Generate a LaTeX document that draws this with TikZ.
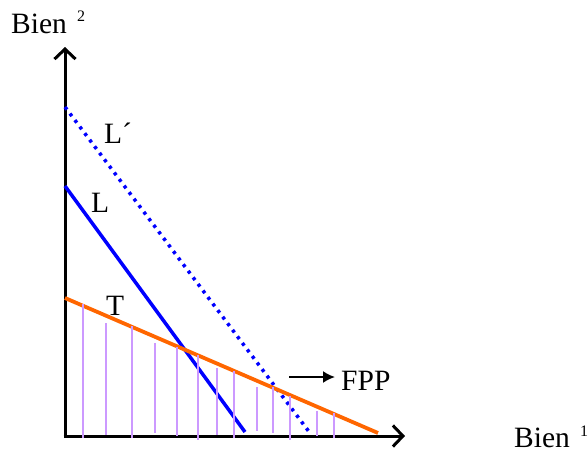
\documentclass[tikz,border=0pt]{standalone}
\usepackage{fontspec}
\setmainfont{Liberation Serif}
\usetikzlibrary{arrows.meta}
\definecolor{lineorange}{RGB}{255,102,0}
\definecolor{hatchviolet}{RGB}{204,153,255}
\definecolor{lineblue}{RGB}{0,0,255}
\tikzset{
  axis/.style={line width=3pt,black,-{Straight Barb[length=10pt,width=21pt,line width=3pt]}},
  budget/.style={line width=3.5pt,lineblue},
  budgetdots/.style={line width=3.5pt,lineblue,dash pattern=on 3.2pt off 5pt},
  tech/.style={line width=3.8pt,lineorange},
  hatch/.style={line width=2.3pt,hatchviolet},
  lbl/.style={inner sep=0pt,anchor=base west,font=\fontsize{29.5}{34}\selectfont},
  sup/.style={inner sep=0pt,anchor=north west,font=\fontsize{16}{18}\selectfont}
}
\begin{document}
\begin{tikzpicture}[x=1pt,y=-1pt]
\useasboundingbox (0,0) rectangle (588,455);
% axes
\coordinate (O) at (65,436);
\coordinate (ytop) at (65,47);
\coordinate (xend) at (405,436);
\draw[axis] (65,437.5) -- (ytop);
\draw[axis] (63.5,436) -- (xend);
% lines
\coordinate (Lp1) at (65,107);
\coordinate (Lp2) at (310,433);
\coordinate (L1) at (65,186);
\coordinate (L2) at (245,432);
\coordinate (T1) at (65,298);
\coordinate (T2) at (378,433);
\draw[budgetdots] (Lp1) -- (Lp2);
\draw[budget] (L1) -- (L2);
\draw[tech] (T1) -- (T2);
% hatch
\foreach \x/\t/\b in {83/304/438,106/323/435,132/326/438,155/343/433,177/347/436,198/355/440,217/368/435,234/371/438,257/387/431,273/387/433,290/396/440,317/411/436,334/413/438}
  \draw[hatch] (\x,\t) -- (\x,\b);
% labels
\node[lbl] (b2) at (11,33) {Bien};
\node[sup] (b2s) at (77,11) {2};
\node[lbl] (b1) at (514,447) {Bien};
\node[sup] (b1s) at (580,426) {1};
\node[lbl] (lp) at (104,143) {L´};
\node[lbl] (l) at (91,212) {L};
\node[lbl] (t) at (106,315) {T};
\node[lbl] (fpp) at (341,390) {FPP};
\coordinate (fa) at (289,377);
\coordinate (fe) at (335,377);
\draw[line width=2pt,-{Latex[length=12pt,width=12pt]}] (fa) -- (fe);
\end{tikzpicture}
\end{document}
